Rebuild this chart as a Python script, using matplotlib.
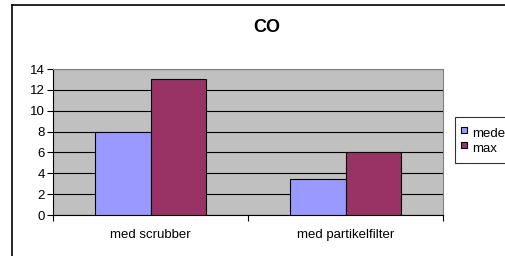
import matplotlib.pyplot as plt
from matplotlib.lines import Line2D
import numpy as np

plt.rcParams['font.family'] = ['Liberation Sans', 'DejaVu Sans']

categories = ['med scrubber', 'med partikelfilter']
medel = [8, 3.5]
maxv = [13, 6]
series_names = ['medel', 'max']
colors = ['#9999FF', '#993366']

W, H = 506, 256
fig = plt.figure(figsize=(W / 100, H / 100), dpi=100)
fig.patch.set_facecolor('white')

# outer chart border (runs off right/bottom edge)
fig.add_artist(Line2D([12 / W, 1.0], [1 - 5 / H, 1 - 5 / H], color='black', lw=1.2, transform=fig.transFigure))
fig.add_artist(Line2D([12 / W, 12 / W], [0, 1 - 5 / H], color='black', lw=1.2, transform=fig.transFigure))

ax = fig.add_axes([53 / W, 1 - 215 / H, 390 / W, 146 / H])
ax.set_facecolor('#C0C0C0')

x = np.arange(len(categories))
bw = 0.285
ax.bar(x - bw / 2, medel, bw, color=colors[0], edgecolor='black', linewidth=0.8, zorder=3)
ax.bar(x + bw / 2, maxv, bw, color=colors[1], edgecolor='black', linewidth=0.8, zorder=3)

ax.set_xlim(-0.5, len(categories) - 0.5)
ax.set_ylim(0, 14)
ax.set_yticks(np.arange(0, 15, 2))
ax.yaxis.grid(True, color='black', linewidth=0.8, zorder=1)
ax.set_axisbelow(True)

ax.set_xticks(np.arange(-0.5, len(categories), 1.0))
ax.set_xticklabels([])
ax.set_xticks(x, minor=True)
ax.set_xticklabels(categories, minor=True)
ax.tick_params(axis='x', which='minor', length=0, pad=10, labelsize=9.5)
ax.tick_params(axis='x', which='major', length=4, width=0.8, direction='out')
ax.tick_params(axis='y', length=4, width=0.8, pad=2, labelsize=9.5)

for s in ['top', 'right']:
    ax.spines[s].set_color('#808080')
    ax.spines[s].set_linewidth(0.8)
for s in ['left', 'bottom']:
    ax.spines[s].set_color('black')
    ax.spines[s].set_linewidth(0.8)

fig.text(267 / W, 1 - 28 / H, 'CO', ha='center', va='center', fontsize=13, fontweight='bold')

handles = [Line2D([], [], linestyle='none', marker='s', markersize=5, markerfacecolor=c,
                  markeredgecolor='black', markeredgewidth=0.8) for c in colors]
leg = ax.legend(handles, series_names, loc='upper left', bbox_to_anchor=(455 / W, 1 - 117 / H),
                bbox_transform=fig.transFigure, borderaxespad=0, fancybox=False, frameon=True, fontsize=9.5,
                handlelength=0.5, handleheight=1.8, handletextpad=0.35, borderpad=0.45, labelspacing=-0.25)
leg.get_frame().set_edgecolor('black')
leg.get_frame().set_linewidth(0.8)

fig.savefig('out.png', dpi=100)
